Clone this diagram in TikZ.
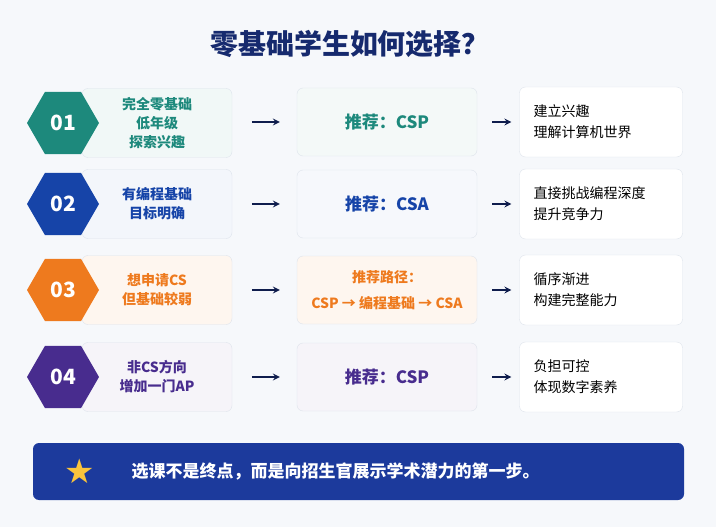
\documentclass[tikz,border=0pt]{standalone}
\usepackage{fontspec}
\setmainfont{Noto Sans CJK SC}
\newfontfamily\symfont{DejaVu Sans}
\usetikzlibrary{shapes.geometric}

\definecolor{bgcol}{RGB}{246,248,251}
\definecolor{navy}{RGB}{22,42,110}
\definecolor{teal}{RGB}{29,137,124}
\definecolor{bluec}{RGB}{22,68,168}
\definecolor{orangec}{RGB}{238,122,30}
\definecolor{purplec}{RGB}{72,44,142}
\definecolor{banner}{RGB}{28,58,156}
\definecolor{boxline}{RGB}{222,228,236}
\definecolor{starc}{RGB}{250,196,60}

\tikzset{
  hexnum/.style={regular polygon, regular polygon sides=6, shape border rotate=0,
    minimum size=72, inner sep=0pt, text=white, font=\bfseries\fontsize{21}{21}\selectfont},
  leftbox/.style={draw=boxline, rounded corners=6, minimum width=150, minimum height=69,
    align=center, font=\bfseries\fontsize{14}{19}\selectfont},
  midbox/.style={draw=boxline, rounded corners=6, minimum width=180, minimum height=68,
    align=center, font=\bfseries\fontsize{17}{22}\selectfont},
  rightbox/.style={draw=boxline, fill=white, rounded corners=6, minimum width=163, minimum height=70,
    text width=135, align=left, font=\fontsize{14}{21}\selectfont},
  flow/.style={-stealth, line width=2pt, navy!70!black}
}

\begin{document}
\begin{tikzpicture}[x=1pt,y=-1pt]
\fill[bgcol] (0,0) rectangle (716,527);
\useasboundingbox (0,0) rectangle (716,527);

% title
\node[font=\bfseries\fontsize{28}{28}\selectfont, text=navy] (title) at (350,44) {零基础学生如何选择？};

% row 1
\node[leftbox, fill=teal!6, text=teal] (l1) at (157,123) {完全零基础\\低年级\\探索兴趣};
\node[hexnum, fill=teal] (h1) at (63,123) {01};
\node[midbox, fill=teal!5, text=teal] (m1) at (387,122) {推荐：CSP};
\node[rightbox] (r1) at (601,122) {建立兴趣\\理解计算机世界};

% row 2
\node[leftbox, fill=bluec!5, text=bluec] (l2) at (157,204) {有编程基础\\目标明确};
\node[hexnum, fill=bluec] (h2) at (63,204) {02};
\node[midbox, fill=bluec!4, text=bluec] (m2) at (387,204) {推荐：CSA};
\node[rightbox] (r2) at (601,204) {直接挑战编程深度\\提升竞争力};

% row 3
\node[leftbox, fill=orangec!7, text=orangec] (l3) at (157,290) {想申请CS\\但基础较弱};
\node[hexnum, fill=orangec] (h3) at (63,290) {03};
\node[midbox, fill=orangec!7, text=orangec, font=\bfseries\fontsize{14}{26}\selectfont] (m3) at (387,290) {推荐路径：\\CSP → 编程基础 → CSA};
\node[rightbox] (r3) at (601,290) {循序渐进\\构建完整能力};

% row 4
\node[leftbox, fill=purplec!5, text=purplec] (l4) at (157,377) {非CS方向\\增加一门AP};
\node[hexnum, fill=purplec] (h4) at (63,377) {04};
\node[midbox, fill=purplec!5, text=purplec] (m4) at (387,377) {推荐：CSP};
\node[rightbox] (r4) at (601,377) {负担可控\\体现数字素养};

% arrows
\foreach \i in {1,2,3,4}{
  \draw[flow] ([xshift=-45]m\i.west) -- ([xshift=-17]m\i.west);
  \draw[flow] ([xshift=15]m\i.east) -- ([xshift=-8]r\i.west);
}

% banner
\fill[banner, rounded corners=6] (33,443) rectangle (684,500);
\node[text=starc, font=\symfont\fontsize{34}{34}\selectfont] (star) at (80,471) {★};
\node[text=white, font=\bfseries\fontsize{17}{17}\selectfont, anchor=west] (msg) at (128,471) {选课不是终点，而是向招生官展示学术潜力的第一步。};
\end{tikzpicture}
\end{document}
